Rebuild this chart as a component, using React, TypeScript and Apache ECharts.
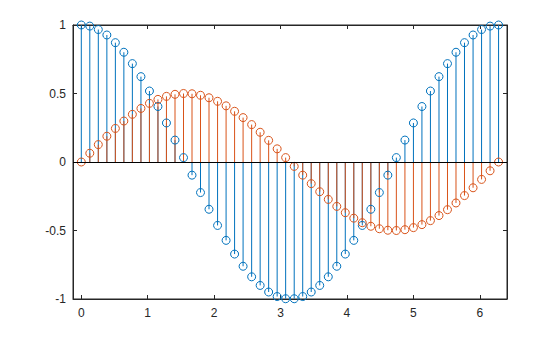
import React, { useEffect, useRef } from "react";
import * as echarts from "echarts";

const xValues = [
  0, 0.128, 0.256, 0.385, 0.513, 0.641, 0.769, 0.898, 1.026, 1.154,
  1.282, 1.411, 1.539, 1.667, 1.795, 1.923, 2.052, 2.18, 2.308, 2.436,
  2.565, 2.693, 2.821, 2.949, 3.077, 3.206, 3.334, 3.462, 3.59, 3.719,
  3.847, 3.975, 4.103, 4.231, 4.36, 4.488, 4.616, 4.744, 4.873, 5.001,
  5.129, 5.257, 5.386, 5.514, 5.642, 5.77, 5.899, 6.027, 6.155, 6.283,
];

const blueValues = [
  1, 0.992, 0.967, 0.927, 0.871, 0.801, 0.718, 0.623, 0.518, 0.405,
  0.285, 0.16, 0.032, -0.096, -0.223, -0.345, -0.463, -0.572, -0.672, -0.761,
  -0.838, -0.901, -0.949, -0.982, -0.998, -0.998, -0.982, -0.949, -0.901, -0.838,
  -0.761, -0.672, -0.572, -0.463, -0.345, -0.223, -0.096, 0.032, 0.16, 0.285,
  0.405, 0.518, 0.623, 0.718, 0.801, 0.871, 0.927, 0.967, 0.992, 1,
];

const orangeValues = [
  0, 0.064, 0.127, 0.188, 0.245, 0.299, 0.348, 0.391, 0.428, 0.457,
  0.479, 0.494, 0.5, 0.498, 0.487, 0.469, 0.443, 0.41, 0.37, 0.324,
  0.273, 0.217, 0.158, 0.096, 0.032, -0.032, -0.096, -0.158, -0.217, -0.273,
  -0.324, -0.37, -0.41, -0.443, -0.469, -0.487, -0.498, -0.5, -0.494, -0.479,
  -0.457, -0.428, -0.391, -0.348, -0.299, -0.245, -0.188, -0.127, -0.064, 0,
];

const xTicks = [0, 1, 2, 3, 4, 5, 6];

const BLUE = "#0072BD";
const ORANGE = "#D95319";
const AXIS = "#262626";
const FONT = "'Liberation Sans', Arial, Helvetica, sans-serif";

function stemSeries(values: number[], color: string) {
  const data = xValues.map((x, i) => [x, values[i]]);
  return [
    {
      type: "custom",
      data,
      silent: true,
      clip: true,
      renderItem: (params: any, api: any) => {
        const p0 = api.coord([api.value(0), 0]);
        const p1 = api.coord([api.value(0), api.value(1)]);
        return {
          type: "line",
          shape: { x1: p0[0], y1: p0[1], x2: p1[0], y2: p1[1] },
          style: { stroke: color, lineWidth: 1 },
        };
      },
    },
    {
      type: "scatter",
      data,
      silent: true,
      symbol: "circle",
      symbolSize: 8,
      itemStyle: {
        color: "rgba(0,0,0,0)",
        borderColor: color,
        borderWidth: 1,
        opacity: 1,
      },
    },
  ];
}

export default function App() {
  const ref = useRef<HTMLDivElement>(null);

  useEffect(() => {
    if (!ref.current) return;
    const chart = echarts.init(ref.current, null, { renderer: "svg" });
    const xMin = -0.125;
    const xMax = 6.41;
    const tickCommon = {
      show: true,
      inside: true,
      length: 4,
      lineStyle: { color: AXIS, width: 1 },
    };
    chart.setOption({
      animation: false,
      backgroundColor: "#ffffff",
      grid: {
        left: 73,
        top: 25,
        width: 434,
        height: 274,
        show: true,
        borderColor: AXIS,
        borderWidth: 1,
        backgroundColor: "#ffffff",
      },
      xAxis: [
        {
          type: "value",
          min: xMin,
          max: xMax,
          position: "bottom",
          axisLine: { show: true, onZero: false, lineStyle: { color: AXIS } },
          axisTick: { ...tickCommon, customValues: xTicks },
          axisLabel: {
            customValues: xTicks,
            color: AXIS,
            fontSize: 12,
            fontFamily: FONT,
            margin: 8,
          },
          splitLine: { show: false },
        },
        {
          type: "value",
          min: xMin,
          max: xMax,
          position: "top",
          axisLine: { show: true, onZero: false, lineStyle: { color: AXIS } },
          axisTick: { ...tickCommon, customValues: xTicks },
          axisLabel: { show: false },
          splitLine: { show: false },
        },
      ],
      yAxis: [
        {
          type: "value",
          min: -1,
          max: 1,
          interval: 0.5,
          position: "left",
          axisLine: { show: true, onZero: false, lineStyle: { color: AXIS } },
          axisTick: tickCommon,
          axisLabel: {
            color: AXIS,
            fontSize: 12,
            fontFamily: FONT,
            margin: 7,
          },
          splitLine: { show: false },
        },
        {
          type: "value",
          min: -1,
          max: 1,
          interval: 0.5,
          position: "right",
          axisLine: { show: true, onZero: false, lineStyle: { color: AXIS } },
          axisTick: tickCommon,
          axisLabel: { show: false },
          splitLine: { show: false },
        },
      ],
      series: [
        ...stemSeries(blueValues, BLUE),
        {
          type: "line",
          data: [],
          silent: true,
          markLine: {
            silent: true,
            symbol: ["none", "none"],
            label: { show: false },
            lineStyle: { color: "#000000", width: 1, type: "solid" },
            data: [{ yAxis: 0 }],
          },
        },
        ...stemSeries(orangeValues, ORANGE),
      ],
    });
    return () => chart.dispose();
  }, []);

  return (
    <div
      ref={ref}
      style={{ position: "fixed", left: 0, top: 0, width: 560, height: 337 }}
    />
  );
}
